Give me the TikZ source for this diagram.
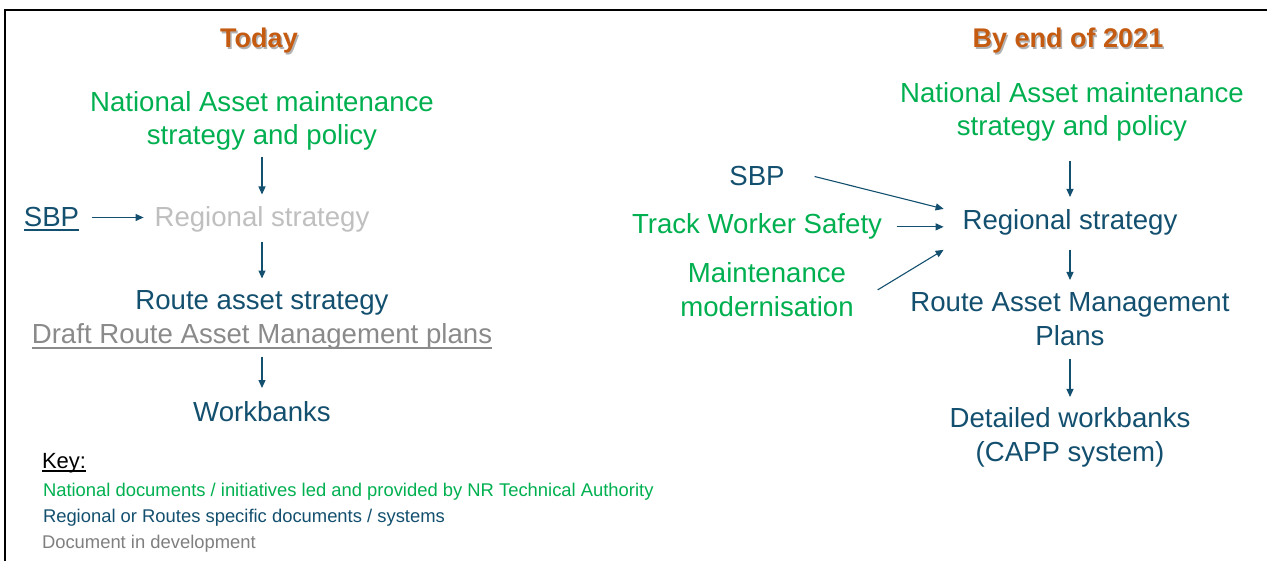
\documentclass[tikz,border=0pt]{standalone}
\usepackage{fontspec}
\setmainfont{Liberation Sans}
\usetikzlibrary{arrows.meta}
\definecolor{ngreen}{HTML}{00B050}
\definecolor{nblue}{HTML}{134F6E}
\definecolor{lgray}{HTML}{BFBFBF}
\definecolor{mgray}{HTML}{8A8A8A}
\definecolor{dgray}{HTML}{7F7F7F}
\definecolor{torange}{HTML}{C55A11}
\begin{document}
\begin{tikzpicture}[x=1pt,y=-1pt,
  every node/.style={inner sep=0pt, outer sep=0pt},
  big/.style={font=\fontsize{27.6}{33.5}\selectfont, align=center},
  title/.style={font=\fontsize{27}{32}\selectfont\bfseries, text=torange, anchor=base},
  shadowtxt/.style={font=\fontsize{27}{32}\selectfont\bfseries, text=black!30, anchor=base},
  small/.style={font=\fontsize{18.4}{22}\selectfont, anchor=base west},
  arr/.style={draw=nblue, line width=1.1pt, -{Triangle[length=8pt,width=7pt]}},
  uline/.style={line width=1.6pt}
]
\useasboundingbox (0,0) rectangle (1267,561);
\draw[line width=2.8pt] (5,561) -- (5,10) -- (1267,10);

% titles
\node[shadowtxt] (todayS) at (260.5,49.5) {Today};
\node[title] (today) at (259,48) {Today};
\node[shadowtxt] (byendS) at (1069.5,49.5) {By end of 2021};
\node[title] (byend) at (1068,48) {By end of 2021};

% left column
\node[big, text=ngreen, anchor=north] (natL) at (262,91.2) {National Asset maintenance\\strategy and policy};
\node[big, text=lgray, anchor=base] (regL) at (262,227) {Regional strategy};
\node[big, text=nblue, anchor=base] (sbpL) at (51.5,227) {SBP};
\node[big, text=nblue, anchor=base] (routeL) at (262,310) {Route asset strategy};
\node[big, text=mgray, anchor=base] (draftL) at (262,344) {Draft Route Asset Management plans};
\node[big, text=nblue, anchor=base] (workL) at (262,421) {Workbanks};

\draw[uline, nblue] ([yshift=-3pt]sbpL.base west) -- ([yshift=-3pt]sbpL.base east);
\draw[uline, mgray] ([yshift=-4pt]draftL.base west) -- ([yshift=-4pt]draftL.base east);

\draw[arr, shorten <=7pt, shorten >=12.5pt] (natL) -- (regL);
\draw[arr, shorten <=9pt, shorten >=12.5pt] (regL) -- (routeL);
\draw[arr, shorten <=7pt, shorten >=13pt] (draftL) -- (workL);
\draw[arr] ([xshift=13pt]sbpL.east) -- ([xshift=-11pt]regL.west |- sbpL.east);

% key
\node[font=\fontsize{22}{26}\selectfont, anchor=base west] (key) at (42,468) {Key:};
\draw[line width=1.3pt] ([yshift=-3pt]key.base west) -- ([yshift=-3pt]key.base east);
\node[small, text=ngreen] (k1) at (43,496) {National documents / initiatives led and provided by NR Technical Authority};
\node[small, text=nblue] (k2) at (43,522) {Regional or Routes specific documents / systems};
\node[small, text=dgray] (k3) at (42,548) {Document in development};

% right column
\node[big, text=ngreen, anchor=north] (natR) at (1072,82.2) {National Asset maintenance\\strategy and policy};
\node[big, text=nblue, anchor=base] (regR) at (1070,230) {Regional strategy};
\node[big, text=nblue, anchor=base] (sbpR) at (757,186) {SBP};
\node[big, text=ngreen, anchor=base] (trackR) at (757,234) {Track Worker Safety};
\node[big, text=ngreen, anchor=north] (maintR) at (767,263) {Maintenance\\modernisation};
\node[big, text=nblue, anchor=north] (routeR) at (1070,293) {Route Asset Management\\Plans};
\node[big, text=nblue, anchor=north] (detR) at (1070,408) {Detailed workbanks\\(CAPP system)};

\draw[arr, shorten <=20pt, shorten >=13pt] (natR.south -| regR.north) -- (regR.north);
\draw[arr, shorten <=14pt, shorten >=13pt] (regR.south) -- (routeR.north -| regR.south);
\draw[arr, shorten <=13pt, shorten >=11pt] (routeR.south -| detR.north) -- (detR.north);
\draw[arr] ([xshift=30pt]sbpR.east) -- ([xshift=-19pt,yshift=14pt]regR.west);
\draw[arr] ([xshift=15pt]trackR.east) -- ([xshift=-19pt]regR.west |- trackR.east);
\draw[arr] ([xshift=24pt]maintR.east) -- ([xshift=-19pt,yshift=-27pt]regR.west);
\end{tikzpicture}
\end{document}
